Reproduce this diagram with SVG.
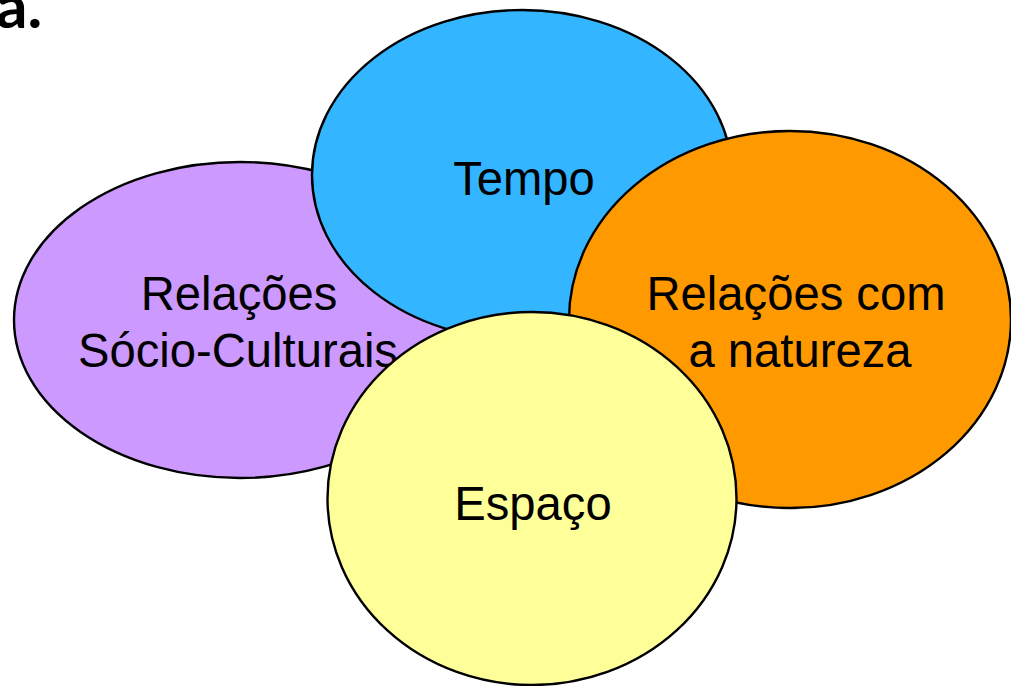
<svg xmlns="http://www.w3.org/2000/svg" width="1011" height="686" viewBox="0 0 1011 686">
<style>
.e{stroke:#000;stroke-width:2.4}
.t{font-family:"Liberation Sans",Arial,sans-serif;font-size:47.2px;fill:#000;text-anchor:middle}
.h{font-family:Lato,"Open Sans",sans-serif;font-weight:bold;font-size:62px;fill:#000}
</style>
<rect width="1011" height="686" fill="#fff"/>
<text class="h" x="-4" y="28">a.</text>
<g id="relacoes-socio-culturais">
<ellipse class="e" cx="240" cy="320" rx="226" ry="158" fill="#CC99FF"/>
<text class="t" x="239" y="310">Relações</text>
<text class="t" x="238" y="367">Sócio-Culturais</text>
</g>
<g id="tempo">
<ellipse class="e" cx="522" cy="175" rx="210" ry="165" fill="#33B5FF"/>
<text class="t" x="524" y="195">Tempo</text>
</g>
<g id="relacoes-natureza">
<ellipse class="e" cx="790" cy="319.5" rx="221" ry="188.5" fill="#FF9900"/>
<text class="t" x="796" y="310">Relações com</text>
<text class="t" x="800" y="367">a natureza</text>
</g>
<g id="espaco">
<ellipse class="e" cx="532" cy="498.5" rx="204.5" ry="186.5" fill="#FFFF99"/>
<text class="t" x="533" y="520">Espaço</text>
</g>
<g id="connectors"></g>
</svg>
